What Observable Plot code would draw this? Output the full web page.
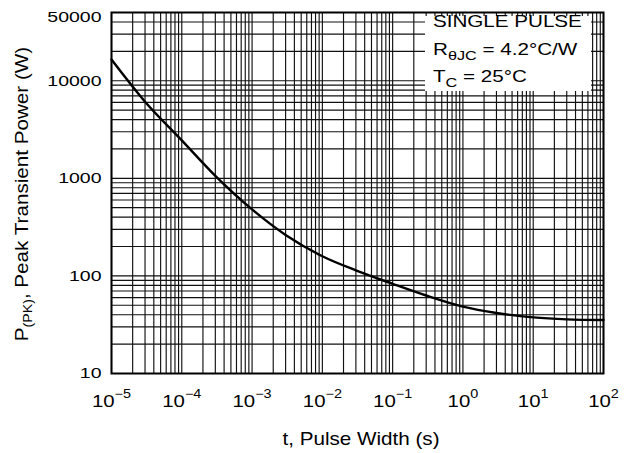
<!DOCTYPE html>
<html><head><meta charset="utf-8">
<script src="https://cdn.jsdelivr.net/npm/d3@7"></script>
<script src="https://cdn.jsdelivr.net/npm/@observablehq/plot@0.6"></script>
<style>body{margin:0;background:#fff} svg{display:block}</style>
</head><body><div id="chart"></div>
<script>
// ---- data ----
const pulseWidth = [1e-5, 3e-5, 1e-4, 3e-4, 1e-3, 3e-3, 1e-2, 3e-2, 1e-1, 3e-1, 1, 3, 10, 30, 100];
const peakPower  = [16500, 6100, 2450, 1060, 480, 263, 159, 114, 83, 63, 48.5, 41.7, 37.6, 35.9, 35.3];
const xTickValues = [1e-5, 1e-4, 1e-3, 1e-2, 1e-1, 1, 10, 100];
const xTickExponents = ["\u22125", "\u22124", "\u22123", "\u22122", "\u22121", "0", "1", "2"];
const yTickValues = [10, 100, 1000, 10000, 50000];
const yTickLabels = ["10", "100", "1000", "10000", "50000"];
const xTitle = "t, Pulse Width (s)";
const yTitleParts = ["P", "(PK)", ", Peak Transient Power (W)"];
const legendLine1 = "SINGLE PULSE";
const legendLine2 = ["R", "\u03B8JC", " = 4.2\u00B0C/W"];
const legendLine3 = ["T", "C", " = 25\u00B0C"];

const data = pulseWidth.map((t, i) => ({t, p: peakPower[i]}));

// log grid (1..9 per decade)
const xGrid = [];
for (let e = -5; e < 2; e++) for (let m = 1; m <= 9; m++) xGrid.push(m * Math.pow(10, e));
xGrid.push(100);
const yGrid = [];
for (let e = 1; e < 4; e++) for (let m = 1; m <= 9; m++) yGrid.push(m * Math.pow(10, e));
for (let m = 1; m <= 5; m++) yGrid.push(m * 10000);

const FONT = "Liberation Sans, Arial, Helvetica, sans-serif";

const chart = Plot.plot({
  width: 626, height: 453,
  marginLeft: 111, marginRight: 23, marginTop: 12, marginBottom: 80,
  x: {type: "log", domain: [1e-5, 100]},
  y: {type: "log", domain: [10, 50000]},
  style: {fontFamily: FONT, background: "white", color: "black"},
  marks: [
    Plot.ruleX(xGrid, {stroke: "#111", strokeWidth: 1.15}),
    Plot.ruleY(yGrid, {stroke: "#111", strokeWidth: 1.15}),
    Plot.line(data, {x: "t", y: "p", stroke: "black", strokeWidth: 2.4, curve: "monotone-x"}),
    Plot.frame({stroke: "black", strokeWidth: 2}),
    Plot.axisX({ticks: xTickValues, tickSize: 0, tickPadding: 21, fontSize: 17, label: null,
      tickFormat: d => xTickExponents[xTickValues.findIndex(v => Math.abs(Math.log10(v) - Math.log10(d)) < 1e-6)]}),
    Plot.axisY({ticks: yTickValues, tickSize: 0, tickPadding: 10, fontSize: 15, label: null,
      tickFormat: d => String(Math.round(d))})
  ]
});
document.getElementById("chart").appendChild(chart);

const svg = d3.select(chart);

// widen text horizontally about its anchor (keeps Plot's translate and em offsets)
function stretch(el, s, oy = 0) {
  const t = el.getAttribute("transform") || "";
  el.setAttribute("transform", `${t} translate(0,${oy}) scale(${s},1)`);
}

// x tick labels as 10^n with superscripts
svg.selectAll('g[aria-label="x-axis tick label"] text').each(function (_, i) {
  const exp = xTickExponents[i];
  this.textContent = "";
  const t = d3.select(this);
  t.append("tspan").text("10");
  t.append("tspan").attr("font-size", 12).attr("dy", -9).text(exp);
  stretch(this, 1.2);
});
// y tick labels (log axis blanks non-1 mantissas, so restore them)
svg.selectAll('g[aria-label="y-axis tick label"] text').each(function (_, i) {
  this.textContent = yTickLabels[i];
  stretch(this, 1.3, yTickLabels[i] === "50000" ? 5 : 0);
});

// axis titles
svg.append("text").attr("font-family", FONT).attr("font-size", 17.5)
  .attr("text-anchor", "middle").attr("fill", "black")
  .attr("transform", "translate(361,445) scale(1.18,1)").text(xTitle);

const yt = svg.append("text").attr("font-family", FONT).attr("font-size", 17.5)
  .attr("text-anchor", "middle").attr("fill", "black")
  .attr("transform", "translate(28,194) rotate(-90) scale(1.18,1)");
yt.append("tspan").text(yTitleParts[0]);
yt.append("tspan").attr("font-size", 12).attr("dy", 4).text(yTitleParts[1]);
yt.append("tspan").attr("dy", -4).text(yTitleParts[2]);

// legend box
const lg = svg.append("g");
lg.append("rect").attr("x", 425).attr("y", 16).attr("width", 166).attr("height", 75).attr("fill", "white");
function legendText(y) {
  return lg.append("text").attr("font-family", FONT).attr("font-size", 16.5).attr("fill", "black")
    .attr("text-anchor", "start")
    .attr("transform", `translate(433,${y}) scale(1.25,1)`);
}
legendText(26.7).text(legendLine1);
const l2 = legendText(55);
l2.append("tspan").text(legendLine2[0]);
l2.append("tspan").attr("font-size", 13).attr("dy", 5).text(legendLine2[1]);
l2.append("tspan").attr("dy", -5).text(legendLine2[2]);
const l3 = legendText(82);
l3.append("tspan").text(legendLine3[0]);
l3.append("tspan").attr("font-size", 13).attr("dy", 5).text(legendLine3[1]);
l3.append("tspan").attr("dy", -5).text(legendLine3[2]);
</script>
</body></html>
